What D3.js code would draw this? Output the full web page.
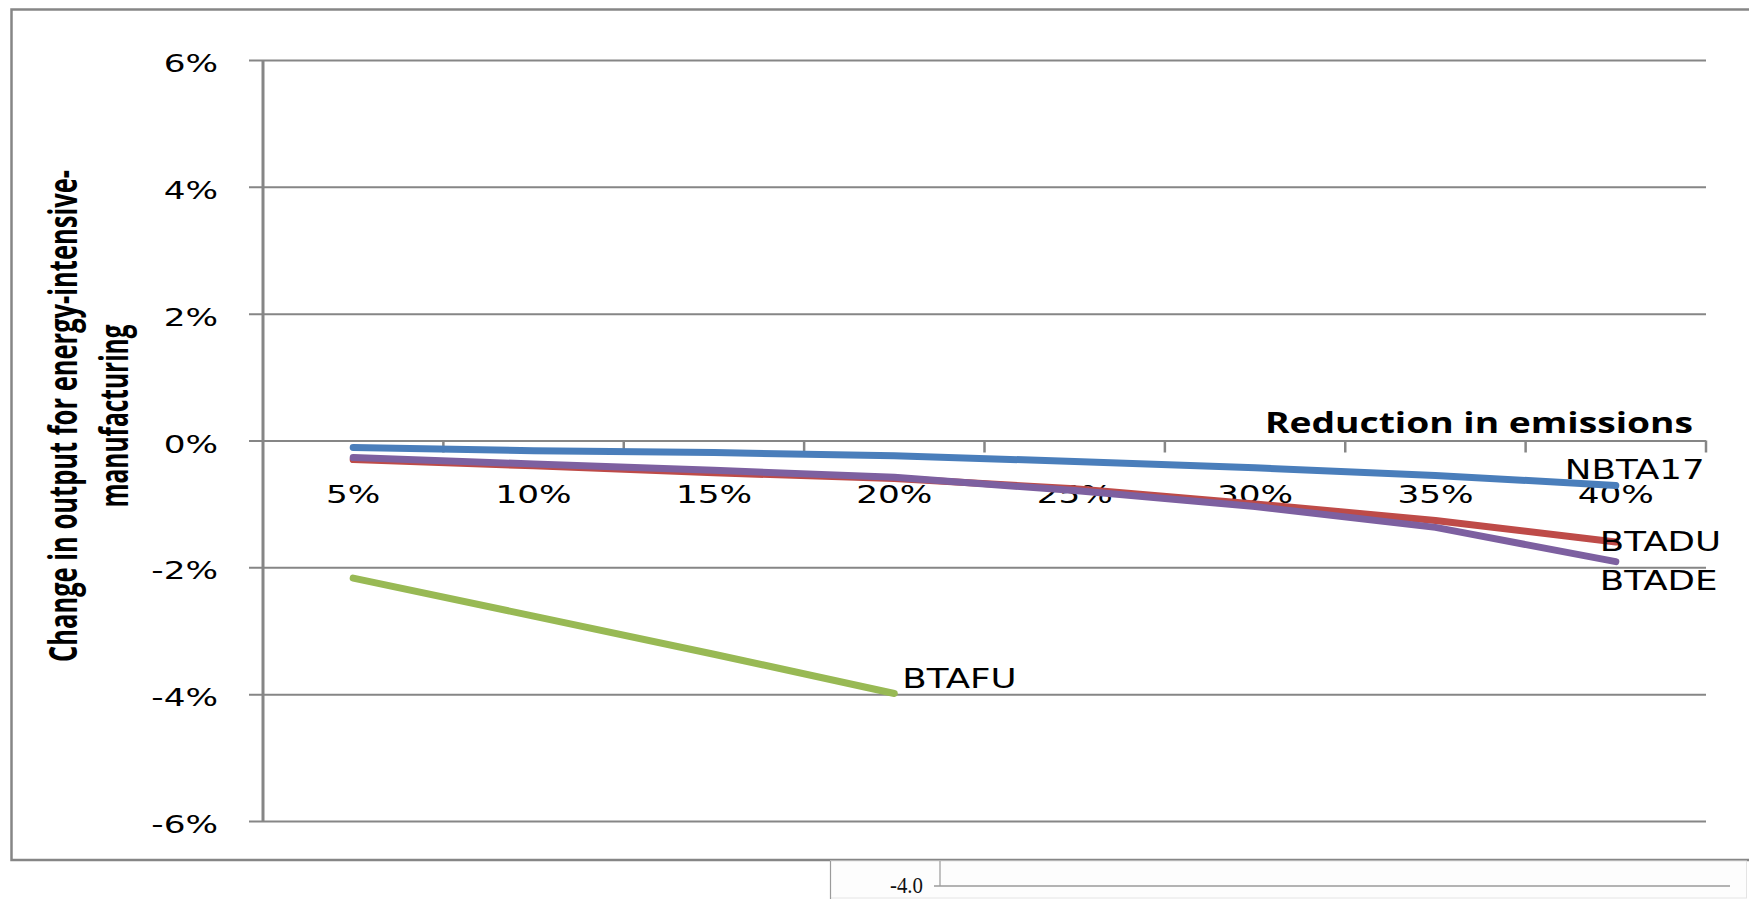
<!DOCTYPE html>
<html>
<head>
<meta charset="utf-8">
<script src="https://cdn.jsdelivr.net/npm/d3@7"></script>
<style>
  html, body { margin: 0; padding: 0; background: #fff; }
  svg { display: block; }
</style>
</head>
<body>
<svg id="chart" width="1749" height="899"></svg>
<script>
// ---------------- data ----------------
const categories = ["5%", "10%", "15%", "20%", "25%", "30%", "35%", "40%"];
const yTicks = [-6, -4, -2, 0, 2, 4, 6];
const seriesNames = ["NBTA17", "BTADU", "BTADE", "BTAFU"];
const nbta17 = [-0.11, -0.16, -0.19, -0.24, -0.33, -0.43, -0.55, -0.71];
const btadu  = [-0.30, -0.40, -0.51, -0.60, -0.76, -1.00, -1.26, -1.60];
const btade  = [-0.27, -0.37, -0.47, -0.58, -0.79, -1.04, -1.37, -1.91];
const btafu  = [-2.17, -2.77, -3.37, -3.99, null, null, null, null];
const yTitleLines = ["Change in output for energy-intensive-", "manufacturing"];
const xTitle = "Reduction in emissions";
const strayLabel = "-4.0";

// ---------------- styling / layout ----------------
const colors = { NBTA17: "#4A7EBB", BTADU: "#BE4B48", BTADE: "#7D60A0", BTAFU: "#98B954" };
const labelOffsets = { NBTA17: [-51, -7], BTADU: [-16, 9], BTADE: [-16, 28], BTAFU: [8, -6] };
const grid = "#868686";
const tickFont = "'DejaVu Sans', Verdana, sans-serif";
const titleFont = "'Open Sans', 'Noto Sans', sans-serif";
const stretch = 1.37;

const svg = d3.select("#chart");

// outer frame (cut off on the right)
svg.append("path")
  .attr("d", "M1760,9.5 H11.5 V860 H1760")
  .attr("fill", "none").attr("stroke", grid).attr("stroke-width", 2.5);

const plotLeft = 263, plotRight = 1706, plotTop = 60, plotBottom = 821;

const x = d3.scaleBand().domain(categories).range([plotLeft, plotRight]).padding(0);
const xc = c => x(c) + x.bandwidth() / 2;
const y = d3.scaleLinear().domain([-6, 6]).range([plotBottom, plotTop]);

function stretchText(sel, factor) {
  sel.each(function () {
    const w = this.getComputedTextLength();
    d3.select(this).attr("textLength", w * factor).attr("lengthAdjust", "spacingAndGlyphs");
  });
}

// y gridlines + labels
const yAxis = svg.append("g")
  .attr("transform", "translate(249,0)")
  .call(d3.axisLeft(y).tickValues(yTicks).tickFormat(d => d + "%")
    .tickSize(-(plotRight - 249)).tickPadding(31));
yAxis.select(".domain").remove();
yAxis.selectAll(".tick line").attr("stroke", grid).attr("stroke-width", 2);
yAxis.selectAll(".tick text")
  .attr("font-family", tickFont).attr("font-size", 25).attr("fill", "#000")
  .attr("dy", "0.46em");
stretchText(yAxis.selectAll(".tick text"), stretch);

// y axis line
svg.append("line")
  .attr("x1", plotLeft).attr("x2", plotLeft)
  .attr("y1", y(6)).attr("y2", y(-6))
  .attr("stroke", grid).attr("stroke-width", 3);

// x axis (crossing at 0)
const xAxis = svg.append("g")
  .attr("transform", `translate(0,${y(0)})`)
  .call(d3.axisBottom(x).tickSize(0).tickPadding(45));
xAxis.select(".domain").remove();
xAxis.selectAll(".tick text")
  .attr("font-family", tickFont).attr("font-size", 25).attr("fill", "#000");
stretchText(xAxis.selectAll(".tick text"), stretch);

// x tick marks at category boundaries
const bounds = categories.map(c => x(c)).concat([x(categories[categories.length - 1]) + x.bandwidth()]);
svg.append("g").selectAll("line").data(bounds.slice(1)).join("line")
  .attr("x1", d => d).attr("x2", d => d)
  .attr("y1", y(0)).attr("y2", y(0) + 12)
  .attr("stroke", grid).attr("stroke-width", 2.5);

// series lines
const seriesData = { NBTA17: nbta17, BTADU: btadu, BTADE: btade, BTAFU: btafu };
const line = d3.line()
  .defined(d => d.v !== null)
  .x(d => xc(d.c))
  .y(d => y(d.v));

seriesNames.forEach(name => {
  const pts = categories.map((c, i) => ({ c, v: seriesData[name][i] }));
  svg.append("path")
    .datum(pts)
    .attr("d", line)
    .attr("fill", "none")
    .attr("stroke", colors[name])
    .attr("stroke-width", 7)
    .attr("stroke-linecap", "round")
    .attr("stroke-linejoin", "round");
});

// series labels at last defined point
seriesNames.forEach(name => {
  const vals = seriesData[name];
  let li = vals.length - 1;
  while (vals[li] === null) li--;
  const t = svg.append("text")
    .attr("x", xc(categories[li]) + labelOffsets[name][0])
    .attr("y", y(vals[li]) + labelOffsets[name][1])
    .attr("font-family", tickFont).attr("font-size", 26).attr("fill", "#000")
    .text(name);
  stretchText(t, stretch);
});

// x axis title
svg.append("text")
  .attr("x", 1265).attr("y", 433)
  .attr("font-family", titleFont).attr("font-weight", 700).attr("font-size", 28)
  .attr("fill", "#000")
  .attr("textLength", 428).attr("lengthAdjust", "spacingAndGlyphs")
  .text(xTitle);

// y axis title (two lines, rotated)
const yTitleBase = [77, 128];
const yTitleLen = [492, 183];
yTitleLines.forEach((s, i) => {
  svg.append("text")
    .attr("transform", `translate(${yTitleBase[i]},416) rotate(-90)`)
    .attr("text-anchor", "middle")
    .attr("font-family", titleFont).attr("font-weight", 700).attr("font-size", 40)
    .attr("fill", "#000")
    .attr("textLength", yTitleLen[i]).attr("lengthAdjust", "spacingAndGlyphs")
    .text(s);
});

// stray fragment of another figure at the bottom
svg.append("rect")
  .attr("x", 830.5).attr("y", 861).attr("width", 916).attr("height", 37)
  .attr("fill", "#fdfdfd").attr("stroke", "#e4e4e4").attr("stroke-width", 1);
svg.append("line").attr("x1", 830.5).attr("x2", 830.5).attr("y1", 861).attr("y2", 899)
  .attr("stroke", "#9a9a9a").attr("stroke-width", 1.2);
svg.append("line").attr("x1", 940).attr("x2", 940).attr("y1", 861).attr("y2", 886)
  .attr("stroke", "#9a9a9a").attr("stroke-width", 1.2);
svg.append("line").attr("x1", 934).attr("x2", 1730).attr("y1", 886).attr("y2", 886)
  .attr("stroke", "#9a9a9a").attr("stroke-width", 1.5);
svg.append("text")
  .attr("x", 923).attr("y", 893).attr("text-anchor", "end")
  .attr("font-family", "'Liberation Serif', 'Times New Roman', serif")
  .attr("font-size", 24).attr("fill", "#111")
  .attr("textLength", 33).attr("lengthAdjust", "spacingAndGlyphs")
  .text(strayLabel);
</script>
</body>
</html>
